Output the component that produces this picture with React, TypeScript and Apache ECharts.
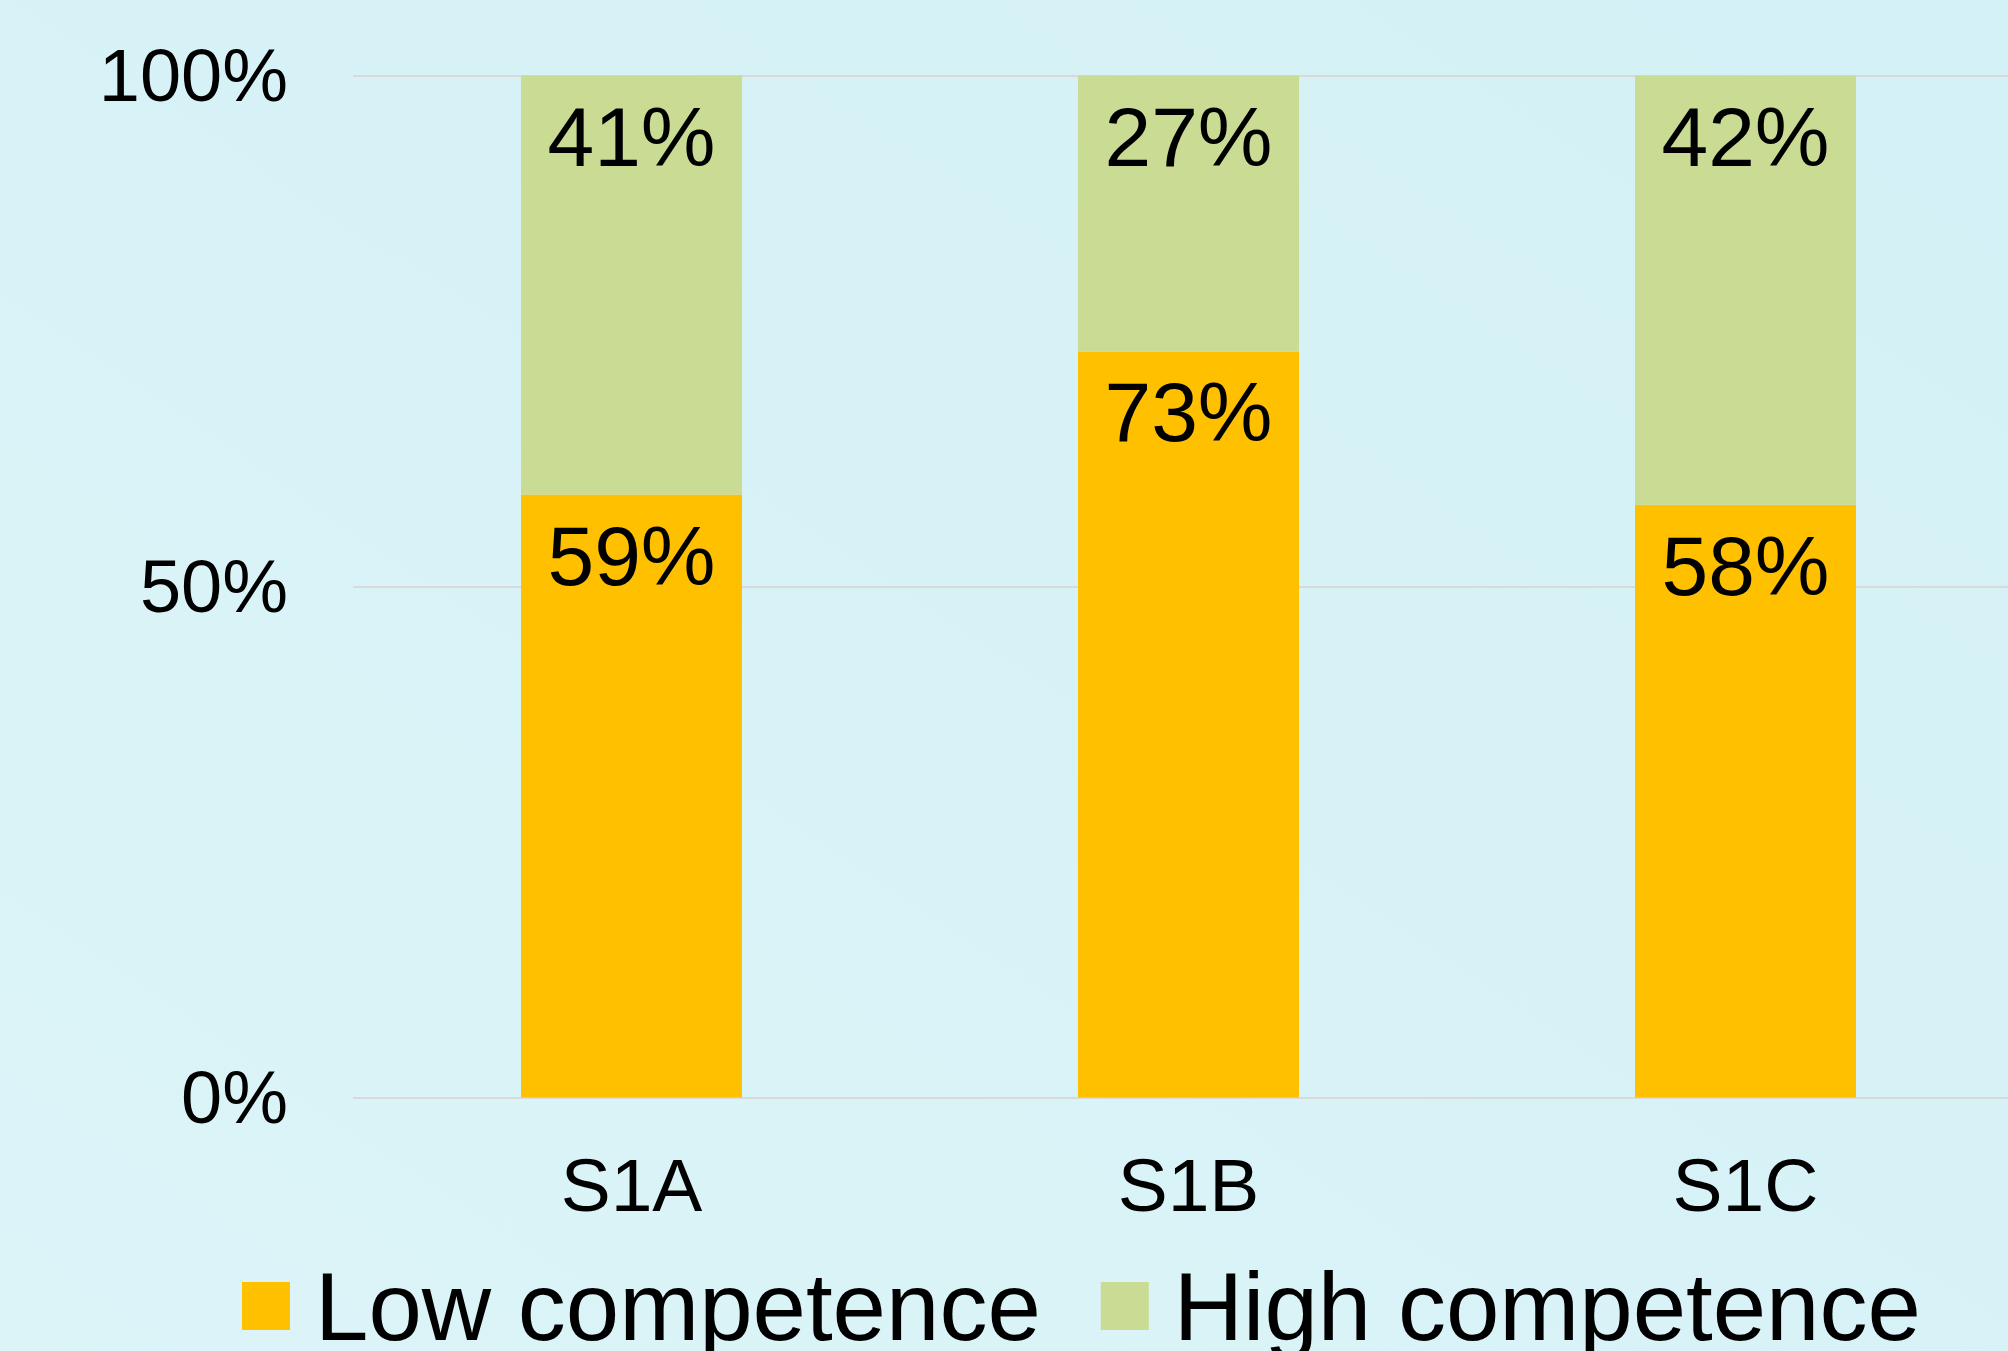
import React, { useEffect, useRef } from "react";
import * as echarts from "echarts";

const categories = ["S1A", "S1B", "S1C"];
const lowCompetence = [59, 73, 58];
const highCompetence = [41, 27, 42];
const yTicks = [0, 50, 100];

const FONT = '"Liberation Sans", Arial, sans-serif';

export default function App() {
  const ref = useRef<HTMLDivElement>(null);
  useEffect(() => {
    if (!ref.current) return;
    const chart = echarts.init(ref.current, undefined, { renderer: "svg" });
    chart.setOption({
      animation: false,
      backgroundColor: {
        type: "linear",
        x: 1,
        y: 0,
        x2: 0,
        y2: 1,
        colorStops: [
          { offset: 0, color: "#d3f1f6" },
          { offset: 1, color: "#dcf4f8" },
        ],
      },
      textStyle: { fontFamily: FONT },
      grid: { left: 353, top: 75.5, width: 1671, bottom: 253.5, containLabel: false },
      legend: {
        left: 237,
        top: 1253,
        itemWidth: 48,
        itemHeight: 48,
        itemGap: 60,
        icon: "rect",
        textStyle: { fontSize: 96, color: "#000", fontFamily: FONT, padding: [0, 0, 0, 20] },
        data: ["Low competence", "High competence"],
      },
      xAxis: {
        type: "category",
        data: categories,
        axisLine: { show: false },
        axisTick: { show: false },
        axisLabel: { fontSize: 75, color: "#000", margin: 50, fontFamily: FONT },
      },
      yAxis: {
        type: "value",
        min: yTicks[0],
        max: yTicks[yTicks.length - 1],
        interval: 50,
        axisLine: { show: false },
        axisTick: { show: false },
        splitLine: { lineStyle: { color: "#d9d9d9", width: 2 } },
        axisLabel: {
          fontSize: 74,
          color: "#000",
          margin: 65,
          fontFamily: FONT,
          formatter: (v: number) => v + "%",
        },
      },
      series: [
        {
          name: "Low competence",
          type: "bar",
          stack: "total",
          data: lowCompetence,
          barWidth: 221,
          itemStyle: { color: "#FFC000" },
          label: {
            show: true,
            position: "insideTop",
            distance: 19,
            fontSize: 84,
            color: "#000",
            fontFamily: FONT,
            formatter: (p: any) => p.value + "%",
          },
        },
        {
          name: "High competence",
          type: "bar",
          stack: "total",
          data: highCompetence,
          barWidth: 221,
          itemStyle: { color: "#CADB94" },
          label: {
            show: true,
            position: "insideTop",
            distance: 19,
            fontSize: 84,
            color: "#000",
            fontFamily: FONT,
            formatter: (p: any) => p.value + "%",
          },
        },
      ],
    });
    return () => chart.dispose();
  }, []);
  return (
    <div
      style={{
        position: "fixed",
        left: 0,
        top: 0,
        width: 2008,
        height: 1351,
        overflow: "hidden",
      }}
    >
      <div ref={ref} style={{ width: 2030, height: 1351 }} />
    </div>
  );
}
